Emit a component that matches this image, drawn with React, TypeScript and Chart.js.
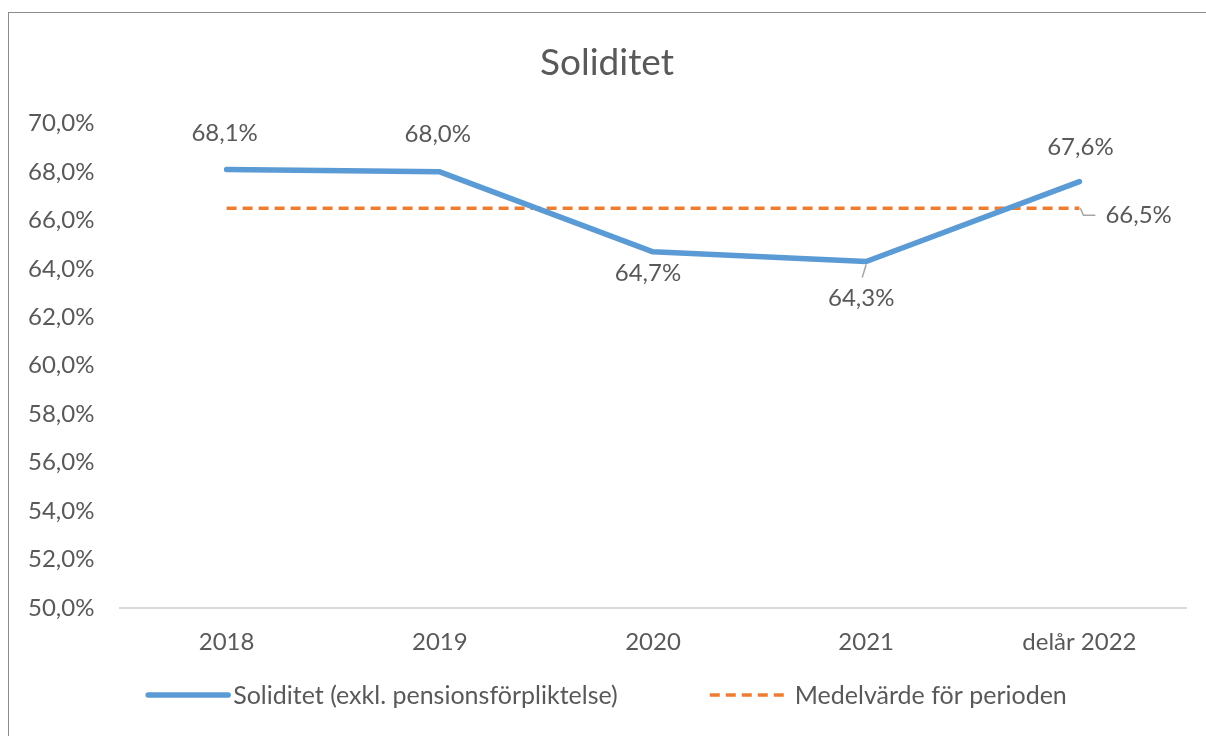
import React, { useEffect, useRef } from "react";
import { Chart, registerables } from "chart.js";

Chart.register(...registerables);

const categories = ["2018", "2019", "2020", "2021", "delår 2022"];
const soliditet = [68.1, 68.0, 64.7, 64.3, 67.6];
const medelvarde = [66.5, 66.5, 66.5, 66.5, 66.5];
const yTicks = [50, 52, 54, 56, 58, 60, 62, 64, 66, 68, 70];
const seriesNames = ["Soliditet (exkl. pensionsförpliktelse)", "Medelvärde för perioden"];

const FONT = "Lato, 'Open Sans', sans-serif";
const TEXT = "#595959";
const LABEL_SIZE = 24;

const fmt = (v: number) => v.toFixed(1).replace(".", ",") + "%";

// label placement (style): offsets from point to text center
const labelOffsets = [
  { dx: -2, dy: -36 },
  { dx: -2, dy: -38 },
  { dx: -5, dy: 21 },
  { dx: -5, dy: 37, leader: true },
  { dx: 1, dy: -34 },
];

const dataLabelPlugin = {
  id: "dataLabels",
  afterDatasetsDraw(chart: any) {
    const ctx = chart.ctx;
    ctx.save();
    ctx.font = `${LABEL_SIZE}px ${FONT}`;
    ctx.fillStyle = TEXT;
    ctx.textBaseline = "middle";
    const meta0 = chart.getDatasetMeta(0);
    meta0.data.forEach((pt: any, i: number) => {
      const o = labelOffsets[i];
      const x = pt.x + o.dx;
      const y = pt.y + o.dy;
      if (o.leader) {
        ctx.save();
        ctx.strokeStyle = "#a6a6a6";
        ctx.lineWidth = 1.5;
        ctx.beginPath();
        ctx.moveTo(pt.x, pt.y + 3);
        ctx.lineTo(pt.x - 4, pt.y + 16);
        ctx.stroke();
        ctx.restore();
      }
      ctx.textAlign = "center";
      ctx.fillText(fmt(soliditet[i]), x, y);
    });
    const meta1 = chart.getDatasetMeta(1);
    const last = meta1.data[meta1.data.length - 1];
    if (last) {
      ctx.save();
      ctx.strokeStyle = "#a6a6a6";
      ctx.lineWidth = 1.5;
      ctx.beginPath();
      ctx.moveTo(last.x + 1, last.y);
      ctx.lineTo(last.x + 4, last.y + 7);
      ctx.lineTo(last.x + 16, last.y + 7);
      ctx.stroke();
      ctx.restore();
      ctx.textAlign = "left";
      ctx.fillText(fmt(medelvarde[medelvarde.length - 1]), last.x + 26, last.y + 7);
    }
    ctx.restore();
  },
};

// Legend drawn from dataset styles, centered at the bottom
const legendPlugin = {
  id: "bottomLegend",
  afterDraw(chart: any) {
    const ctx = chart.ctx;
    const ds = chart.data.datasets;
    ctx.save();
    ctx.font = `25px ${FONT}`;
    ctx.textBaseline = "middle";
    ctx.textAlign = "left";
    const lineLen = [80, 78];
    const gapText = [5, 7];
    const spacing = 92;
    const widths = ds.map((d: any, i: number) => lineLen[i] + gapText[i] + ctx.measureText(d.label).width);
    const total = widths.reduce((a: number, b: number) => a + b, 0) + spacing * (ds.length - 1);
    let x = (chart.width - total) / 2;
    const y = 682;
    ds.forEach((d: any, i: number) => {
      ctx.save();
      ctx.strokeStyle = d.borderColor;
      ctx.lineWidth = d.borderWidth;
      ctx.lineCap = d.borderDash ? "butt" : "round";
      ctx.setLineDash(d.borderDash || []);
      ctx.beginPath();
      ctx.moveTo(x, y);
      ctx.lineTo(x + lineLen[i], y);
      ctx.stroke();
      ctx.restore();
      ctx.fillStyle = TEXT;
      ctx.fillText(d.label, x + lineLen[i] + gapText[i], y + 1);
      x += widths[i] + spacing;
    });
    ctx.restore();
  },
};

export default function App() {
  const ref = useRef<HTMLCanvasElement>(null);
  useEffect(() => {
    if (!ref.current) return;
    const chart = new Chart(ref.current, {
      type: "line",
      data: {
        labels: categories,
        datasets: [
          {
            label: seriesNames[0],
            data: soliditet,
            borderColor: "#5b9bd5",
            backgroundColor: "#5b9bd5",
            borderWidth: 5.5,
            pointRadius: 0,
            borderCapStyle: "round",
            borderJoinStyle: "round",
            tension: 0,
          },
          {
            label: seriesNames[1],
            data: medelvarde,
            borderColor: "#ed7d31",
            backgroundColor: "#ed7d31",
            borderWidth: 3.5,
            borderDash: [10, 6],
            pointRadius: 0,
            tension: 0,
          },
        ],
      },
      options: {
        responsive: false,
        animation: false,
        layout: { padding: { left: 19, right: 20, top: 0, bottom: 66 } },
        plugins: {
          tooltip: { enabled: false },
          title: {
            display: true,
            text: "Soliditet",
            color: TEXT,
            font: { family: FONT, size: 37, weight: "normal", lineHeight: 1.2 },
            padding: { top: 28, bottom: 38 },
          },
          legend: { display: false },
        },
        scales: {
          x: {
            offset: true,
            grid: { display: false, drawTicks: false },
            border: { display: true, color: "#d9d9d9", width: 2 },
            ticks: { color: TEXT, font: { family: FONT, size: LABEL_SIZE }, padding: 20 },
            afterFit: (s: any) => {
              s.height = 62;
            },
          },
          y: {
            min: 50,
            max: 70,
            afterBuildTicks: (s: any) => {
              s.ticks = yTicks.map((v) => ({ value: v }));
            },
            grid: { display: false, drawTicks: false },
            border: { display: false },
            ticks: {
              color: TEXT,
              font: { family: FONT, size: LABEL_SIZE },
              padding: 0,
              crossAlign: "far",
              callback: (v: any) => fmt(Number(v)),
            },
            afterFit: (s: any) => {
              s.width = 92;
            },
          },
        },
      },
      plugins: [dataLabelPlugin, legendPlugin],
    } as any);
    return () => chart.destroy();
  }, []);
  return (
    <div
      style={{
        position: "absolute",
        left: 8,
        top: 12,
        width: 1198,
        height: 724,
        boxSizing: "border-box",
        borderTop: "1px solid #8c8c8c",
        borderLeft: "1px solid #8c8c8c",
        background: "#fff",
        overflow: "hidden",
      }}
    >
      <canvas ref={ref} width={1197} height={723} style={{ display: "block" }} />
    </div>
  );
}
